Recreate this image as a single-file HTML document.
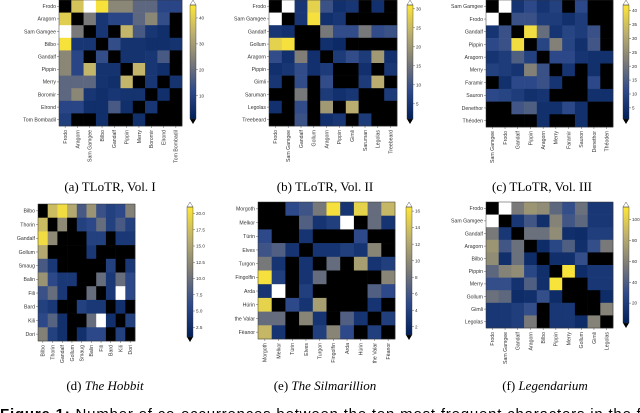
<!DOCTYPE html>
<html><head><meta charset="utf-8"><style>
html,body{margin:0;padding:0;background:#fff;width:640px;height:413px;overflow:hidden}
svg{display:block}
</style></head><body>
<svg id="fig" width="640" height="413" xmlns="http://www.w3.org/2000/svg">
<defs>
<linearGradient id="cg" x1="0" y1="1" x2="0" y2="0">
<stop offset="0" stop-color="#00205a"/><stop offset="0.25" stop-color="#2e4a8a"/>
<stop offset="0.5" stop-color="#7c7b78"/><stop offset="0.75" stop-color="#bcaf6f"/>
<stop offset="1" stop-color="#fde737"/></linearGradient>
</defs>
<text x="110" y="191" text-anchor="middle" font-family="Liberation Serif, serif" font-size="13">(a) TLoTR, Vol. I</text>
<text x="325" y="191" text-anchor="middle" font-family="Liberation Serif, serif" font-size="13">(b) TLoTR, Vol. II</text>
<text x="542" y="191" text-anchor="middle" font-family="Liberation Serif, serif" font-size="13">(c) TLoTR, Vol. III</text>
<text x="105" y="390" text-anchor="middle" font-family="Liberation Serif, serif" font-size="13">(d) <tspan font-style="italic">The Hobbit</tspan></text>
<text x="325" y="390" text-anchor="middle" font-family="Liberation Serif, serif" font-size="13">(e) <tspan font-style="italic">The Silmarillion</tspan></text>
<text x="545" y="390" text-anchor="middle" font-family="Liberation Serif, serif" font-size="13">(f) <tspan font-style="italic">Legendarium</tspan></text>
<text x="0" y="419" font-family="Liberation Sans, sans-serif" font-size="15" textLength="645" lengthAdjust="spacing"><tspan font-weight="bold">Figure 1:</tspan>  Number of co-occurrences between the ten most frequent characters in the fi</text>
</svg>
<script>
const labelsA=["Frodo","Aragorn","Sam Gamgee","Bilbo","Gandalf","Pippin","Merry","Boromir","Elrond","Tom Bombadil"];
const valuesA=[[0,38,55,44,25,25,18,18,10,10],[40,0,22,6,10,10,18,25,12,0],[55,22,0,6,0,35,15,6,4,0],[44,6,6,0,12,5,5,4,4,5],[25,10,0,12,0,5,5,6,15,0],[25,10,35,5,5,0,35,6,4,0],[18,18,18,5,4,35,0,6,0,5],[18,25,6,4,6,5,5,0,4,0],[10,10,4,4,15,4,0,6,0,0],[8,0,0,4,0,0,4,0,0,0]];
const ticksA=[10,20,30,40];
const labelsB=["Frodo","Sam Gamgee","Gandalf","Gollum","Aragorn","Pippin","Gimli","Saruman","Legolas","Treebeard"];
const valuesB=[[0,35,4,28,9,3,4,0,3,0],[35,0,4,30,3,4,0,0,0,0],[4,3,0,0,15,8,8,15,8,9],[28,30,0,0,3,2,0,0,0,0],[8,3,16,3,0,5,8,5,20,3],[3,4,8,3,5,0,0,3,0,4],[4,0,8,0,8,0,0,5,23,0],[0,0,15,0,5,3,4,0,0,5],[3,0,8,0,20,0,23,0,0,0],[0,0,9,0,3,4,0,5,0,0]];
const ticksB=[5,10,15,20,25,30];
const labelsC=["Sam Gamgee","Frodo","Gandalf","Pippin","Aragorn","Merry","Faramir","Sauron","Denethor","Théoden"];
const valuesC=[[0,50,5,10,5,8,0,10,0,0],[50,0,12,12,7,7,4,7,0,0],[5,12,0,40,18,5,9,7,12,0],[10,12,40,0,9,22,9,4,13,0],[5,7,15,8,0,10,10,5,4,4],[8,7,5,22,12,0,5,0,4,0],[0,4,10,10,12,5,0,0,10,0],[10,9,7,4,5,0,0,0,4,4],[0,0,13,15,4,4,10,4,0,0],[0,0,0,0,4,0,0,4,0,0]];
const ticksC=[5,10,15,20,25,30,35,40];
const labelsD=["Bilbo","Thorin","Gandalf","Gollum","Smaug","Balin","Fili","Bard","Kili","Dori"];
const valuesD=[[0,17,20,15,7,13,6,4,5,11],[17,0,12,0,4,5,9,4,7,4],[20,12,0,0,0,4,4,0,3,3],[15,0,0,0,0,3,0,0,0,0],[7,3,0,0,0,0,0,4,0,3],[13,5,3,3,0,0,9,3,9,5],[6,9,3,0,0,9,0,3,25,5],[4,3,0,0,4,3,3,0,2,0],[5,8,2,0,0,9,25,2,0,4],[11,4,2,0,2,5,5,0,4,0]];
const ticksD=[2.5,5,7.5,10,12.5,15,17.5,20];
const labelsE=["Morgoth","Melkor","Túrin","Elves","Turgon","Fingolfin","Arda","Húrin","the Valar","Fëanor"];
const valuesE=[[0,0,4,5,8,16,2,15,7,13],[0,0,0,6,2,3,20,0,7,2],[4,0,0,2,0,0,0,4,0,0],[5,6,2,0,2,2,3,2,9,0],[8,2,0,2,0,7,0,11,2,3],[16,3,0,2,7,0,0,0,0,9],[2,20,0,3,0,0,0,0,6,4],[15,0,4,2,11,0,0,0,2,0],[7,7,0,9,2,0,6,2,0,3],[13,2,0,0,3,9,4,0,3,0]];
const ticksE=[2,4,6,8,10,12,14,16];
const labelsF=["Frodo","Sam Gamgee","Gandalf","Aragorn","Bilbo","Pippin","Merry","Gollum","Gimli","Legolas"];
const valuesF=[[0,130,55,70,65,45,30,50,15,15],[130,0,15,35,10,60,35,45,15,15],[55,15,0,50,50,65,10,8,20,20],[70,35,50,0,8,25,40,10,30,55],[65,10,50,8,0,10,10,30,0,0],[45,60,65,25,10,0,110,8,15,15],[30,30,12,40,10,110,0,0,15,15],[50,45,8,10,30,8,0,0,0,8],[15,15,20,30,0,15,15,0,0,60],[15,15,20,55,0,15,15,8,60,0]];
const ticksF=[20,40,60,80,100];
const vmaxA=45,vmaxB=31,vmaxC=42,vmaxD=21,vmaxE=16.5,vmaxF=112;

const NS="http://www.w3.org/2000/svg";
const svg=document.getElementById('fig');
const stops=[[0,[0,32,90]],[0.25,[46,74,138]],[0.5,[124,123,120]],[0.75,[188,175,111]],[1,[253,231,55]]];
function cmap(v,vmax){
  if(v<=0) return '#000';
  if(v>vmax) return '#fff';
  const t=v/vmax;
  for(let i=1;i<stops.length;i++){
    if(t<=stops[i][0]){const a=stops[i-1],b=stops[i];const f=(t-a[0])/(b[0]-a[0]);
      const c=a[1].map((x,k)=>Math.round(x+(b[1][k]-x)*f));return 'rgb('+c.join(',')+')';}
  }
  return '#fde737';
}
function mk(tag,attrs,parent){const e=document.createElementNS(NS,tag);for(const k in attrs)e.setAttribute(k,attrs[k]);(parent||svg).appendChild(e);return e;}
function panel(id,labels,values,vmax,ticks,x0,y0,w,h,cbx,cby0,cby1){
  const g=mk('g',{});
  
  
  const n=labels.length,cw=w/n,ch=h/n;
  const xs=i=>x0+i*cw, ys=j=>y0+j*ch;
  values.forEach((row,j)=>row.forEach((v,i)=>{
    const r=mk('rect',{x:xs(i),y:ys(j),width:cw+0.3,height:ch+0.3,fill:cmap(v,vmax)},g);
    
    
  }));
  mk('rect',{x:x0,y:y0,width:w,height:h,fill:'none',stroke:'#333','stroke-width':0.5},g);
  labels.forEach((l,j)=>{
    const t=mk('text',{x:x0-3,y:ys(j)+ch/2+1.8,'text-anchor':'end','font-size':5.2,fill:'#333','font-family':'Liberation Sans, sans-serif'},g);
    t.textContent=l;
    
    
    mk('line',{x1:x0-2,x2:x0,y1:ys(j)+ch/2,y2:ys(j)+ch/2,stroke:'#333','stroke-width':0.4},g);
    const cx=xs(j)+cw/2;
    mk('line',{x1:cx,x2:cx,y1:y0+h,y2:y0+h+2,stroke:'#333','stroke-width':0.4},g);
    const tx=mk('text',{x:0,y:0,'text-anchor':'end','font-size':5.2,fill:'#333','font-family':'Liberation Sans, sans-serif',transform:'translate('+(cx+1.8)+','+(y0+h+4)+') rotate(-90)'},g);
    tx.textContent=l;
    
    
  });
  const cb=mk('g',{});
  
  
  const a=cby0+5,b=cby1-5,wd=6;
  mk('rect',{x:cbx,y:a,width:wd,height:b-a,fill:'url(#cg)'},cb);
  mk('polygon',{points:`${cbx},${a} ${cbx+wd},${a} ${cbx+wd/2},${cby0}`,fill:'#fff',stroke:'#333','stroke-width':0.4},cb);
  mk('polygon',{points:`${cbx},${b} ${cbx+wd},${b} ${cbx+wd/2},${cby1}`,fill:'#000'},cb);
  mk('rect',{x:cbx,y:a,width:wd,height:b-a,fill:'none',stroke:'#333','stroke-width':0.4},cb);
  const vy=v=>b-(v-1)/(vmax-1)*(b-a);
  ticks.forEach(v=>{
    const y=vy(v);
    mk('line',{x1:cbx+wd,x2:cbx+wd+2,y1:y,y2:y,stroke:'#333','stroke-width':0.4},cb);
    const t=mk('text',{x:cbx+wd+3,y:y+1.6,'font-size':4.6,fill:'#333','font-family':'Liberation Sans, sans-serif'},cb);
    t.textContent=(ticks[0]==2.5?v.toFixed(1):v);
    
    
  });
}
panel('a',labelsA,valuesA,vmaxA,ticksA,59,0,123,126,190,0,124);
panel('b',labelsB,valuesB,vmaxB,ticksB,269,0,128,126,407,0,124);
panel('c',labelsC,valuesC,vmaxC,ticksC,486,0,127,127,623,0,124);
panel('d',labelsD,valuesD,vmaxD,ticksD,38,204,97,137,187,202,342);
panel('e',labelsE,valuesE,vmaxE,ticksE,258,202,137,137,406,202,340);
panel('f',labelsF,valuesF,vmaxF,ticksF,486,202,127,126,623,202,328);
</script>
</body></html>
